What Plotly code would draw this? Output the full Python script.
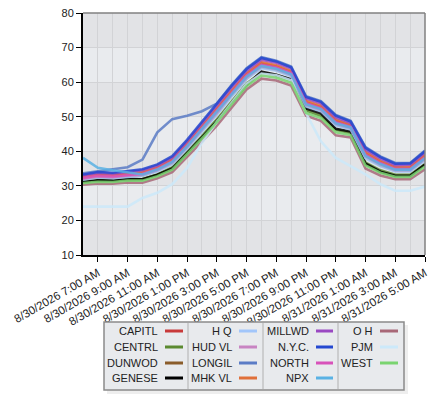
import plotly.graph_objects as go

###############
## DATA      ##
###############
hours = ["2026-08-30 06:00", "2026-08-30 07:00", "2026-08-30 08:00", "2026-08-30 09:00",
         "2026-08-30 10:00", "2026-08-30 11:00", "2026-08-30 12:00", "2026-08-30 13:00",
         "2026-08-30 14:00", "2026-08-30 15:00", "2026-08-30 16:00", "2026-08-30 17:00",
         "2026-08-30 18:00", "2026-08-30 19:00", "2026-08-30 20:00", "2026-08-30 21:00",
         "2026-08-30 22:00", "2026-08-30 23:00", "2026-08-31 00:00", "2026-08-31 01:00",
         "2026-08-31 02:00", "2026-08-31 03:00", "2026-08-31 04:00", "2026-08-31 05:00"]

zones = ["CAPITL", "CENTRL", "DUNWOD", "GENESE", "H Q", "HUD VL", "LONGIL", "MHK VL",
         "MILLWD", "N.Y.C.", "NORTH", "NPX", "O H", "PJM", "WEST"]

capitl = [32.5, 33.1, 32.9, 33.4, 33.7, 35.1, 37.4, 42.0, 47.0, 52.1, 57.3, 62.2,
          65.4, 64.5, 62.9, 54.2, 52.8, 48.8, 47.4, 39.4, 36.9, 35.2, 35.2, 38.6]
centrl = [31.1, 31.6, 31.5, 31.9, 32.0, 33.3, 35.3, 39.7, 44.4, 49.2, 54.5, 59.6,
          62.7, 62.0, 60.5, 51.8, 50.3, 46.2, 45.3, 36.7, 34.5, 33.2, 33.2, 36.3]
dunwod = [32.0, 32.5, 32.4, 32.8, 33.0, 34.4, 36.5, 41.1, 46.0, 50.9, 56.2, 61.1,
          64.3, 63.5, 61.9, 53.3, 51.8, 47.7, 46.5, 38.3, 35.9, 34.4, 34.4, 37.7]
genese = [31.2, 31.6, 31.5, 32.0, 31.9, 33.2, 35.0, 39.4, 44.0, 48.7, 54.0, 59.2,
          63.0, 62.1, 60.8, 52.4, 51.0, 46.5, 45.7, 36.4, 34.1, 32.9, 32.9, 36.2]
h_q    = [31.8, 32.4, 32.2, 32.6, 32.9, 34.2, 36.3, 40.8, 45.7, 50.6, 55.9, 60.9,
          64.0, 63.3, 61.7, 53.0, 51.6, 47.5, 46.3, 38.0, 35.7, 34.2, 34.2, 37.4]
hud_vl = [32.1, 32.7, 32.5, 33.0, 33.2, 34.6, 36.8, 41.3, 46.3, 51.2, 56.5, 61.4,
          64.6, 63.8, 62.2, 53.5, 52.1, 48.0, 46.8, 38.6, 36.2, 34.6, 34.6, 37.9]
longil = [33.6, 34.3, 34.8, 35.4, 37.6, 45.5, 49.3, 50.3, 51.6, 53.8, 59.2, 64.0,
          67.2, 66.2, 64.5, 55.9, 54.5, 50.5, 48.8, 41.2, 38.5, 36.6, 36.6, 40.2]
mhk_vl = [32.7, 33.3, 33.2, 33.6, 34.0, 35.4, 37.7, 42.3, 47.4, 52.5, 57.7, 62.6,
          65.8, 64.9, 63.2, 54.6, 53.2, 49.2, 47.7, 39.8, 37.2, 35.5, 35.5, 39.0]
millwd = [33.1, 33.7, 33.5, 34.0, 34.5, 35.9, 38.2, 42.9, 48.1, 53.3, 58.5, 63.3,
          66.5, 65.6, 63.9, 55.3, 53.9, 49.8, 48.2, 40.5, 37.9, 36.0, 36.1, 39.6]
nyc    = [33.3, 34.0, 33.8, 34.3, 34.8, 36.2, 38.6, 43.3, 48.6, 53.8, 59.0, 63.8,
          67.0, 66.0, 64.3, 55.7, 54.3, 50.3, 48.6, 41.0, 38.3, 36.4, 36.5, 40.0]
north  = [32.3, 32.9, 32.7, 33.2, 33.5, 34.9, 37.1, 41.6, 46.7, 51.7, 56.9, 61.9,
          65.0, 64.2, 62.6, 53.9, 52.5, 48.4, 47.1, 39.0, 36.6, 34.9, 34.9, 38.3]
npx    = [38.1, 35.2, 34.5, 34.0, 33.3, 34.7, 36.9, 41.4, 46.4, 51.4, 56.6, 61.6,
          64.7, 63.9, 62.3, 53.6, 52.2, 48.1, 46.9, 38.7, 36.3, 34.7, 34.7, 38.0]
o_h    = [30.3, 30.7, 30.6, 31.0, 30.9, 32.2, 34.0, 38.3, 42.8, 47.4, 52.7, 57.9,
          61.0, 60.5, 59.0, 50.3, 48.8, 44.6, 44.0, 35.0, 33.0, 31.9, 31.9, 34.8]
pjm    = [24.0, 24.0, 24.0, 24.0, 26.5, 28.0, 30.5, 35.2, 42.5, 48.5, 54.0, 59.5,
          62.5, 62.0, 60.5, 51.0, 42.9, 38.1, 35.7, 33.3, 30.5, 28.6, 28.6, 29.8]
west   = [30.8, 31.2, 31.1, 31.5, 31.5, 32.8, 34.7, 39.1, 43.7, 48.4, 53.6, 58.8,
          61.9, 61.3, 59.8, 51.1, 49.6, 45.5, 44.7, 35.9, 33.8, 32.6, 32.6, 35.6]

series = [capitl, centrl, dunwod, genese, h_q, hud_vl, longil, mhk_vl,
          millwd, nyc, north, npx, o_h, pjm, west]

colors = {"CAPITL": "#c83a3a", "CENTRL": "#5b8a30", "DUNWOD": "#8a5c2a", "GENESE": "#000000",
          "H Q": "#a2c6fa", "HUD VL": "#c884c2", "LONGIL": "#5b7cc6", "MHK VL": "#e0703a",
          "MILLWD": "#9a48c2", "N.Y.C.": "#2448d0", "NORTH": "#d852ba", "NPX": "#5ab2e4",
          "O H": "#a86878", "PJM": "#cce9fa", "WEST": "#7ad470"}

##########
## PLOT ##
##########
fig = go.Figure()
for name, vals in zip(zones, series):
    fig.add_trace(go.Scatter(x=hours, y=vals, name=name, mode="lines", opacity=0.85,
                             line=dict(color=colors[name], width=2.6), showlegend=False))

# page has an 8px body margin -> work in page pixels and shift
OFF = 8
W, H = 440 - OFF, 400 - OFF
L, R, T, B = 83 - OFF, 425 - OFF, 13 - OFF, 255 - OFF
def px(x): return (x - OFF - L) / (R - L)
def py(y): return (B - (y - OFF)) / (B - T)

shapes = []
# alternating horizontal bands
for lo in [10, 30, 50, 70]:
    shapes.append(dict(type="rect", xref="paper", yref="y", x0=0, x1=1, y0=lo, y1=lo + 10,
                       fillcolor="#e2e3e6", line_width=0, layer="below"))
# gray top/right border
shapes.append(dict(type="line", xref="paper", yref="paper", x0=0, x1=1, y0=1, y1=1,
                   line=dict(color="#808080", width=1.5)))
shapes.append(dict(type="line", xref="paper", yref="paper", x0=1, x1=1, y0=0, y1=1,
                   line=dict(color="#808080", width=1.5)))

# custom legend (column-major, text right aligned before swatch)
shapes.append(dict(type="rect", xref="paper", yref="paper", x0=px(107), x1=px(408), y0=py(325), y1=py(394),
                   fillcolor="#eeeeee", line_width=0))
shapes.append(dict(type="rect", xref="paper", yref="paper", x0=px(104), x1=px(404), y0=py(322), y1=py(390),
                   fillcolor="#e8eaed", line=dict(color="#8a8a8a", width=1.5)))
for sx in [188, 263, 338]:
    shapes.append(dict(type="line", xref="paper", yref="paper", x0=px(sx), x1=px(sx), y0=py(323), y1=py(389),
                       line=dict(color="#b0b0b0", width=1)))

col_text = [160, 234, 311, 375]
col_sw = [(165, 183), (239, 257), (316, 333), (380, 398)]
row_y = [331, 347, 363, 378]
annotations = []
for i, name in enumerate(zones):
    c, r = i // 4, i % 4
    annotations.append(dict(xref="paper", yref="paper", x=px(col_text[c]), y=py(row_y[r]), text=name,
                            showarrow=False, xanchor="right", yanchor="middle",
                            font=dict(family="Liberation Sans, Arial", size=11, color="#222222")))
    shapes.append(dict(type="line", xref="paper", yref="paper", x0=px(col_sw[c][0]), x1=px(col_sw[c][1]),
                       y0=py(row_y[r]), y1=py(row_y[r]), line=dict(color=colors[name], width=3)))

fig.update_layout(width=W, height=H, margin=dict(l=L, r=W - R, t=T, b=H - B, autoexpand=False),
                  paper_bgcolor="white", plot_bgcolor="#e9ebee", showlegend=False,
                  font=dict(family="Liberation Sans, Arial", size=11, color="#222222"),
                  shapes=shapes, annotations=annotations)
fig.update_xaxes(type="date", range=[hours[0], hours[-1]], tick0="2026-08-30 07:00", dtick=2 * 3600000,
                 tickformat="%-m/%-d/%Y %-I:%M %p", tickangle=-30, ticks="outside", ticklen=5,
                 tickfont=dict(size=11.5), tickcolor="black", showline=True, linecolor="black", linewidth=2,
                 automargin=False, ticklabeloverflow="allow", showgrid=True, gridcolor="#d2d3d6",
                 gridwidth=1, zeroline=False,
                 minor=dict(dtick=3600000, showgrid=True, gridcolor="#d2d3d6", ticklen=0))
fig.update_yaxes(range=[10, 80], dtick=10, ticks="outside", ticklen=5, tickcolor="black",
                 showline=True, linecolor="black", linewidth=2, automargin=False,
                 ticklabeloverflow="allow", showgrid=True, gridcolor="#d2d3d6", gridwidth=1,
                 zeroline=False)

fig.write_html("out.html")
